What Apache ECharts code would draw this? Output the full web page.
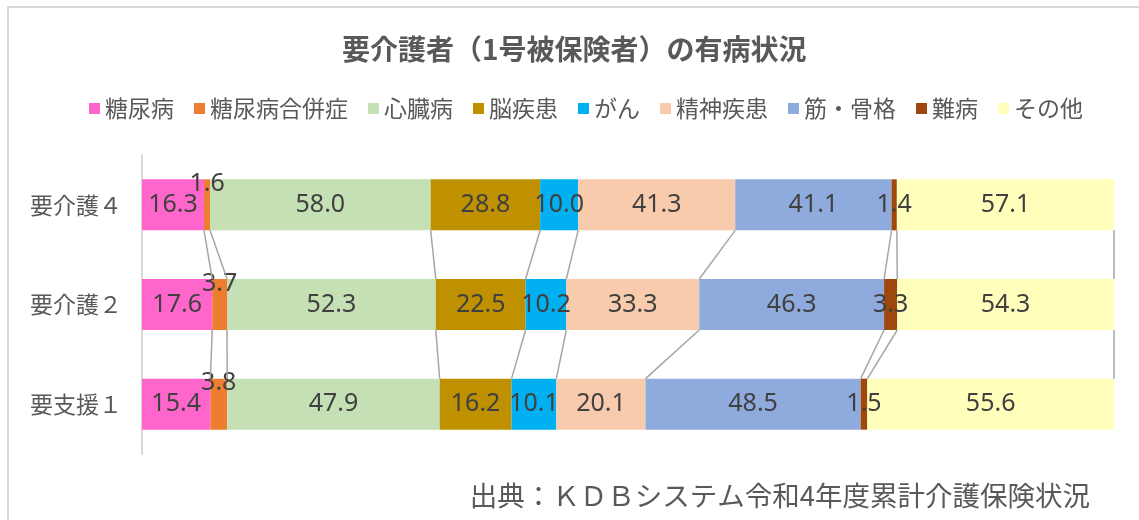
<!DOCTYPE html>
<html>
<head>
<meta charset="utf-8">
<script src="https://cdn.jsdelivr.net/npm/echarts@6/dist/echarts.min.js"></script>
<style>
  html, body { margin: 0; padding: 0; background: #fff; }
  #chart { width: 1139px; height: 520px; }
</style>
</head>
<body>
<div id="chart"></div>
<script>
// 区分（上から順）
const categories = ['要介護４', '要介護２', '要支援１'];
// 疾病名
const diseases = ['糖尿病', '糖尿病合併症', '心臓病', '脳疾患', 'がん', '精神疾患', '筋・骨格', '難病', 'その他'];
const colors = ['#FF66CC', '#ED7D31', '#C5E0B4', '#BF9000', '#00B0F0', '#F8CBAD', '#8FAADC', '#9E480E', '#FFFFBB'];
// 有病率（区分ごと）
const care4 = [16.3, 1.6, 58.0, 28.8, 10.0, 41.3, 41.1, 1.4, 57.1];
const care2 = [17.6, 3.7, 52.3, 22.5, 10.2, 33.3, 46.3, 3.3, 54.3];
const support1 = [15.4, 3.8, 47.9, 16.2, 10.1, 20.1, 48.5, 1.5, 55.6];

const rows = [care4, care2, support1];
const totals = rows.map(r => r.reduce((a, b) => a + b, 0));
// 100%積み上げ用の割合
const pct = rows.map((r, k) => r.map(v => v / totals[k] * 100));

// 区分線（系列線）用の累積値
const cum = pct.map(r => {
    let s = 0;
    return r.map(v => (s += v));
});
const lineData = [];
for (let i = 0; i < diseases.length; i++) {
    for (let k = 0; k < categories.length - 1; k++) {
        lineData.push([cum[k][i], k, cum[k + 1][i], k + 1]);
    }
}

const BAR_W = 51;
const cjk = "'Noto Sans CJK JP', sans-serif";

const series = diseases.map((name, i) => ({
    name: name,
    type: 'bar',
    stack: 'total',
    barWidth: BAR_W,
    itemStyle: { color: colors[i] },
    label: {
        show: true,
        position: 'inside',
        offset: i === 1 ? [0, -21] : [0, 0],
        color: '#404040',
        fontSize: 25,
        fontFamily: "'Noto Sans', sans-serif",
        formatter: p => rows[p.dataIndex][i].toFixed(1)
    },
    emphasis: { disabled: true },
    data: pct.map(r => r[i])
}));

series.push({
    type: 'custom',
    name: 'serieslines',
    silent: true,
    z: 5,
    renderItem: function (params, api) {
        const p1 = api.coord([api.value(0), api.value(1)]);
        const p2 = api.coord([api.value(2), api.value(3)]);
        const h = BAR_W / 2;
        return {
            type: 'line',
            shape: { x1: p1[0], y1: p1[1] + h, x2: p2[0], y2: p2[1] - h },
            style: { stroke: '#A6A6A6', lineWidth: 1.5 }
        };
    },
    data: lineData
});

const option = {
    animation: false,
    backgroundColor: '#fff',
    textStyle: { fontFamily: cjk },
    title: {
        text: '要介護者（1号被保険者）の有病状況',
        left: 337,
        top: 30,
        textStyle: { fontSize: 28, fontWeight: 'bold', color: '#595959', fontFamily: cjk }
    },
    legend: {
        data: diseases,
        top: 92,
        left: 84,
        icon: 'rect',
        itemWidth: 11,
        itemHeight: 11,
        itemGap: 20,
        textStyle: { fontSize: 23, color: '#595959', fontFamily: cjk }
    },
    grid: { left: 142, right: 25, top: 155, bottom: 66 },
    xAxis: {
        type: 'value',
        min: 0,
        max: 100,
        show: false
    },
    yAxis: {
        type: 'category',
        inverse: true,
        data: categories,
        axisLine: { show: true, lineStyle: { color: '#D9D9D9', width: 2 } },
        axisTick: { show: false },
        axisLabel: { fontSize: 23, color: '#595959', margin: 20, fontFamily: cjk }
    },
    graphic: [
        {
            type: 'rect',
            shape: { x: 8, y: 7, width: 1200, height: 600 },
            style: { fill: 'none', stroke: '#D9D9D9', lineWidth: 2 },
            silent: true
        },
        {
            type: 'text',
            right: 49,
            top: 482,
            style: {
                text: '出典：ＫＤＢシステム令和4年度累計介護保険状況',
                fontSize: 27.5,
                fill: '#595959',
                fontFamily: cjk
            }
        }
    ],
    series: series
};

const chart = echarts.init(document.getElementById('chart'));
chart.setOption(option);
</script>
</body>
</html>
